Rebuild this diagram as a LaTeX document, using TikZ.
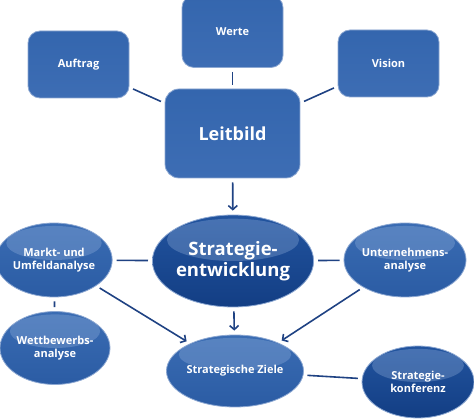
\documentclass[tikz,border=0pt]{standalone}
\usepackage{fontspec}
\setmainfont{Open Sans}
\usepackage{xcolor}
\usetikzlibrary{arrows.meta,positioning,calc,shapes.geometric}
\definecolor{NavyLine}{HTML}{1F4283}
\definecolor{BoxTop}{HTML}{3466AE}
\definecolor{BoxMid}{HTML}{164694}
\definecolor{BoxBot}{HTML}{3D6DB4}
\definecolor{BoxRim}{HTML}{8DA8D2}
\definecolor{OvalTop}{HTML}{3A6CB3}
\definecolor{OvalBot}{HTML}{2B5CA4}
\definecolor{DeepTop}{HTML}{22549F}
\definecolor{DeepBot}{HTML}{133E84}
\definecolor{Gloss}{HTML}{9FBBE3}
\newcommand{\lblsize}{\bfseries\fontsize{11}{12.5}\selectfont}

\begin{document}
\begin{tikzpicture}[
  x=1pt,y=-1pt,
  box/.style={draw=BoxRim,line width=0.8pt,rounded corners=12pt,
              top color=BoxTop,middle color=BoxMid,bottom color=BoxBot,
              text=white,font=\lblsize,align=center,
              minimum width=101pt,minimum height=67pt},
  gloss/.style={path picture={
      \fill[Gloss,fill opacity=0.3]
        let \p1=(path picture bounding box.north east),
            \p2=(path picture bounding box.south west) in
        ($(path picture bounding box.north)!0.27!(path picture bounding box.south)$)
        ellipse ({0.41*(\x1-\x2)} and {0.23*(\y1-\y2)});}},
  oval/.style={ellipse,draw=BoxRim,line width=0.8pt,inner sep=0pt,
               top color=OvalTop,bottom color=OvalBot,gloss,
               text=white,font=\lblsize,align=center},
  deep/.style={top color=DeepTop,bottom color=DeepBot},
  ln/.style={line width=1.6pt,NavyLine,shorten <=4pt,shorten >=4pt},
  fl/.style={ln,-{Straight Barb[length=4pt,width=9pt]}}
]
\useasboundingbox (0,0) rectangle (474,419);
% Leitbild und seine Bausteine
\node[box,minimum height=72pt] (werte) at (232.5,31.5) {Werte};
\node[box] (auftrag) at (78.5,64.5) {Auftrag};
\node[box] (vision)  at (388.5,63.5) {Vision};
\node[box,minimum width=135pt,minimum height=89pt,rounded corners=14pt,
      font=\bfseries\fontsize{18}{20}\selectfont] (leit) at (232.5,133.5) {Leitbild};
\draw[ln] (auftrag) -- (leit);
\draw[ln] (werte) -- (leit);
\draw[ln] (vision) -- (leit);
% Strategieentwicklung
\node[oval,deep,minimum width=140pt,minimum height=92pt,
      font=\bfseries\fontsize{18.5}{21}\selectfont] (strat) at (233,261) {Strategie-\\entwicklung};
\node[oval,minimum width=108pt,minimum height=74pt] (markt) at (54,260) {Markt- und\\Umfeldanalyse};
\node[oval,minimum width=104pt,minimum height=74pt] (unt) at (405,260) {Unternehmens-\\analyse};
\node[oval,minimum width=110pt,minimum height=73pt] (wett) at (55,348) {Wettbewerbs-\\analyse};
\node[oval,minimum width=114pt,minimum height=72pt] (ziele) at (235,371) {Strategische Ziele};
\node[oval,deep,minimum width=112pt,minimum height=72pt] (konf) at (418,382) {Strategie-\\konferenz};
\draw[fl] (leit) -- (strat);
\draw[ln] (markt) -- (strat);
\draw[ln] (strat) -- (unt);
\draw[ln] (markt) -- (wett);
\draw[fl] (markt) -- (ziele);
\draw[fl] (unt) -- (ziele);
\draw[fl] (strat) -- (ziele);
\draw[ln] (ziele) -- (konf);
\end{tikzpicture}
\end{document}
